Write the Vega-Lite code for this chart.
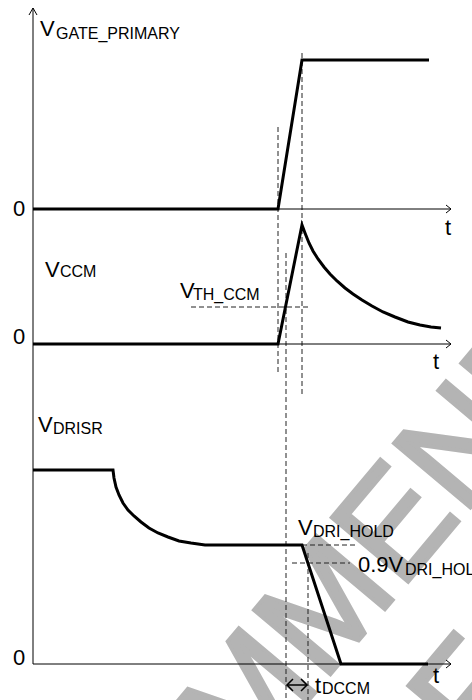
{
  "$schema": "https://vega.github.io/schema/vega-lite/v6.json",
  "width": 472,
  "height": 700,
  "padding": 0,
  "autosize": {"type": "none"},
  "background": "white",
  "config": {"view": {"stroke": null}},
  "datasets": {
    "traces": [
      {"seg": "gate", "o": 1, "t": 33, "v": 491},
      {"seg": "gate", "o": 2, "t": 278, "v": 491},
      {"seg": "gate", "o": 3, "t": 302, "v": 640},
      {"seg": "gate", "o": 4, "t": 429, "v": 640},
      {"seg": "ccm", "o": 1, "t": 33, "v": 356},
      {"seg": "ccm", "o": 2, "t": 278, "v": 356},
      {"seg": "ccm", "o": 3, "t": 302, "v": 475},
      {"seg": "ccm", "o": 4, "t": 305, "v": 467},
      {"seg": "ccm", "o": 5, "t": 309, "v": 457},
      {"seg": "ccm", "o": 6, "t": 313, "v": 449},
      {"seg": "ccm", "o": 7, "t": 318, "v": 441},
      {"seg": "ccm", "o": 8, "t": 324, "v": 433},
      {"seg": "ccm", "o": 9, "t": 330, "v": 426},
      {"seg": "ccm", "o": 10, "t": 337, "v": 419},
      {"seg": "ccm", "o": 11, "t": 345, "v": 412},
      {"seg": "ccm", "o": 12, "t": 353, "v": 406},
      {"seg": "ccm", "o": 13, "t": 362, "v": 400},
      {"seg": "ccm", "o": 14, "t": 372, "v": 394},
      {"seg": "ccm", "o": 15, "t": 383, "v": 388},
      {"seg": "ccm", "o": 16, "t": 395, "v": 383},
      {"seg": "ccm", "o": 17, "t": 408, "v": 378},
      {"seg": "ccm", "o": 18, "t": 420, "v": 375},
      {"seg": "ccm", "o": 19, "t": 431, "v": 373},
      {"seg": "ccm", "o": 20, "t": 441, "v": 372},
      {"seg": "drisr", "o": 1, "t": 33, "v": 230},
      {"seg": "drisr", "o": 2, "t": 113, "v": 230},
      {"seg": "drisr", "o": 3, "t": 114, "v": 222},
      {"seg": "drisr", "o": 4, "t": 116, "v": 213},
      {"seg": "drisr", "o": 5, "t": 119, "v": 205},
      {"seg": "drisr", "o": 6, "t": 123, "v": 197},
      {"seg": "drisr", "o": 7, "t": 128, "v": 190},
      {"seg": "drisr", "o": 8, "t": 134, "v": 184},
      {"seg": "drisr", "o": 9, "t": 141, "v": 178},
      {"seg": "drisr", "o": 10, "t": 149, "v": 172},
      {"seg": "drisr", "o": 11, "t": 158, "v": 167},
      {"seg": "drisr", "o": 12, "t": 168, "v": 163},
      {"seg": "drisr", "o": 13, "t": 179, "v": 159},
      {"seg": "drisr", "o": 14, "t": 191, "v": 157},
      {"seg": "drisr", "o": 15, "t": 205, "v": 155},
      {"seg": "drisr", "o": 16, "t": 223, "v": 155},
      {"seg": "drisr", "o": 17, "t": 302, "v": 155},
      {"seg": "drisr", "o": 18, "t": 341, "v": 36},
      {"seg": "drisr", "o": 19, "t": 428, "v": 36}
    ],
    "axes": [
      {"seg": "vax", "o": 1, "t": 33, "v": 692},
      {"seg": "vax", "o": 2, "t": 33, "v": 36},
      {"seg": "varr", "o": 1, "t": 29, "v": 685},
      {"seg": "varr", "o": 2, "t": 33, "v": 692},
      {"seg": "varr", "o": 3, "t": 37, "v": 685},
      {"seg": "h1", "o": 1, "t": 33, "v": 491},
      {"seg": "h1", "o": 2, "t": 451, "v": 491},
      {"seg": "h1a", "o": 1, "t": 446, "v": 495},
      {"seg": "h1a", "o": 2, "t": 451, "v": 491},
      {"seg": "h1a", "o": 3, "t": 446, "v": 487},
      {"seg": "h2", "o": 1, "t": 33, "v": 356},
      {"seg": "h2", "o": 2, "t": 451, "v": 356},
      {"seg": "h2a", "o": 1, "t": 446, "v": 360},
      {"seg": "h2a", "o": 2, "t": 451, "v": 356},
      {"seg": "h2a", "o": 3, "t": 446, "v": 352},
      {"seg": "h3", "o": 1, "t": 33, "v": 36},
      {"seg": "h3", "o": 2, "t": 451, "v": 36},
      {"seg": "h3a", "o": 1, "t": 446, "v": 40},
      {"seg": "h3a", "o": 2, "t": 451, "v": 36},
      {"seg": "h3a", "o": 3, "t": 446, "v": 32}
    ],
    "dashes": [
      {"seg": "d1", "o": 1, "t": 278, "v": 573},
      {"seg": "d1", "o": 2, "t": 278, "v": 325},
      {"seg": "d2", "o": 1, "t": 302, "v": 647},
      {"seg": "d2", "o": 2, "t": 302, "v": 304},
      {"seg": "d3", "o": 1, "t": 286, "v": 447},
      {"seg": "d3", "o": 2, "t": 286, "v": 0},
      {"seg": "d4", "o": 1, "t": 308, "v": 147},
      {"seg": "d4", "o": 2, "t": 308, "v": 0},
      {"seg": "vth", "o": 1, "t": 191, "v": 393},
      {"seg": "vth", "o": 2, "t": 309, "v": 393},
      {"seg": "hold", "o": 1, "t": 302, "v": 155},
      {"seg": "hold", "o": 2, "t": 355, "v": 155},
      {"seg": "hold90", "o": 1, "t": 292, "v": 137},
      {"seg": "hold90", "o": 2, "t": 350, "v": 137}
    ],
    "darrow": [
      {"seg": "shaft", "o": 1, "t": 287, "v": 15},
      {"seg": "shaft", "o": 2, "t": 307, "v": 15},
      {"seg": "left", "o": 1, "t": 293, "v": 21},
      {"seg": "left", "o": 2, "t": 287, "v": 15},
      {"seg": "left", "o": 3, "t": 293, "v": 9},
      {"seg": "right", "o": 1, "t": 301, "v": 21},
      {"seg": "right", "o": 2, "t": 307, "v": 15},
      {"seg": "right", "o": 3, "t": 301, "v": 9}
    ],
    "bigtext": [
      {"t": 40, "v": 664, "label": "V"},
      {"t": 45, "v": 423, "label": "V"},
      {"t": 180, "v": 402, "label": "V"},
      {"t": 38, "v": 268, "label": "V"},
      {"t": 298, "v": 165, "label": "V"},
      {"t": 358, "v": 128, "label": "0.9V"},
      {"t": 315, "v": 7, "label": "t"},
      {"t": 13, "v": 484, "label": "0"},
      {"t": 13, "v": 356, "label": "0"},
      {"t": 13, "v": 35, "label": "0"},
      {"t": 445, "v": 465, "label": "t"},
      {"t": 433, "v": 331, "label": "t"},
      {"t": 433, "v": 17, "label": "t"}
    ],
    "subtext": [
      {"t": 56, "v": 661, "label": "GATE_PRIMARY"},
      {"t": 60, "v": 423, "label": "CCM"},
      {"t": 193, "v": 400, "label": "TH_CCM"},
      {"t": 53, "v": 266, "label": "DRISR"},
      {"t": 313, "v": 163, "label": "DRI_HOLD"},
      {"t": 405, "v": 125, "label": "DRI_HOLD"},
      {"t": 322, "v": 6, "label": "DCCM"}
    ],
    "wm": [
      {"t": -245, "v": -660, "label": "NOT RECOMMENDED"},
      {"t": 477, "v": -59, "label": "FOR NEW DESIGN"}
    ]
  },
  "encoding": {
    "x": {"field": "t", "type": "quantitative", "scale": {"domain": [0, 472], "nice": false, "zero": false}, "axis": null},
    "y": {"field": "v", "type": "quantitative", "scale": {"domain": [0, 700], "nice": false, "zero": false}, "axis": null}
  },
  "layer": [
    {
      "data": {"name": "wm"},
      "mark": {"type": "text", "align": "left", "baseline": "alphabetic", "angle": -50, "font": "Liberation Sans", "fontSize": 145, "color": "#b4b4b4", "stroke": "#b4b4b4", "strokeWidth": 4},
      "encoding": {"text": {"field": "label"}}
    },
    {
      "data": {"name": "dashes"},
      "mark": {"type": "line", "color": "#222222", "strokeWidth": 1, "strokeDash": [5, 3]},
      "encoding": {"detail": {"field": "seg"}, "order": {"field": "o"}}
    },
    {
      "data": {"name": "axes"},
      "mark": {"type": "line", "color": "#000000", "strokeWidth": 1},
      "encoding": {"detail": {"field": "seg"}, "order": {"field": "o"}}
    },
    {
      "data": {"name": "darrow"},
      "mark": {"type": "line", "color": "#000000", "strokeWidth": 1.5},
      "encoding": {"detail": {"field": "seg"}, "order": {"field": "o"}}
    },
    {
      "data": {"name": "traces"},
      "mark": {"type": "line", "color": "#000000", "strokeWidth": 3, "strokeJoin": "miter", "strokeCap": "butt"},
      "encoding": {"detail": {"field": "seg"}, "order": {"field": "o"}}
    },
    {
      "data": {"name": "bigtext"},
      "mark": {"type": "text", "align": "left", "baseline": "alphabetic", "font": "Liberation Sans", "fontSize": 22, "color": "#000000"},
      "encoding": {"text": {"field": "label"}}
    },
    {
      "data": {"name": "subtext"},
      "mark": {"type": "text", "align": "left", "baseline": "alphabetic", "font": "Liberation Sans", "fontSize": 16, "color": "#000000"},
      "encoding": {"text": {"field": "label"}}
    }
  ]
}
